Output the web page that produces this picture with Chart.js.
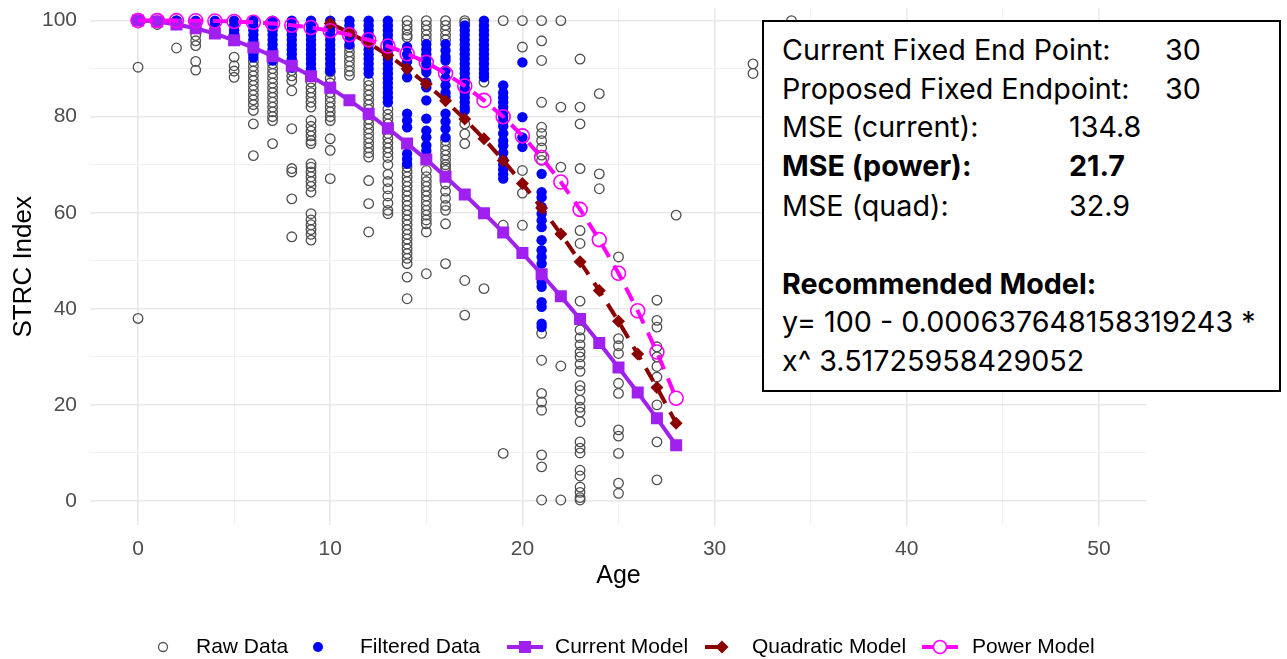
<!DOCTYPE html>
<html>
<head>
<meta charset="utf-8">
<script src="https://cdn.jsdelivr.net/npm/chart.js@4.4.1/dist/chart.umd.min.js"></script>
<style>
    body { margin: 0; background: #fff; }
    #wrap { position: relative; width: 1287px; height: 659px; }
    #note {
        position: absolute; left: 762px; top: 20px; width: 515px; height: 368px;
        border: 2px solid #000; background: #fff;
        font-family: Inter, "Open Sans", sans-serif; font-size: 28.7px; color: #000;
    }
    #note div { position: absolute; line-height: 1; white-space: pre; }
    #note .b { font-weight: bold; }
</style>
</head>
<body>
<div id="wrap">
    <canvas id="myChart" width="1287" height="659"></canvas>
    <div id="note">
        <div style="left:18px;top:14px">Current Fixed End Point:</div>
        <div style="left:401px;top:14px">30</div>
        <div style="left:18px;top:53px">Proposed Fixed Endpoint:</div>
        <div style="left:401px;top:53px">30</div>
        <div style="left:18px;top:91px">MSE (current):</div>
        <div style="left:305px;top:91px">134.8</div>
        <div class="b" style="left:18px;top:130px">MSE (power):</div>
        <div class="b" style="left:305px;top:130px">21.7</div>
        <div style="left:18px;top:170px">MSE (quad):</div>
        <div style="left:305px;top:170px">32.9</div>
        <div class="b" style="left:18px;top:248px">Recommended Model:</div>
        <div style="left:18px;top:286px">y= 100 - 0.000637648158319243 *</div>
        <div style="left:18px;top:325px">x^ 3.51725958429052</div>
    </div>
</div>
<script>
// raw observations, grouped by age (only the ones visible under the blue points)
const rawAges = [0, 1, 2, 3, 4, 5, 6, 7, 8, 9, 10, 11, 12, 13, 14, 15, 16, 17, 18, 19, 20, 21, 22, 23, 24, 25, 27, 28, 32, 34];
const rawValues = [
    [100, 90.3, 38],
    [100, 99.2],
    [100, 94.3],
    [99, 96.9, 95.8, 94.8, 91.5, 89.7],
    [99, 98],
    [92.4, 90.6, 89.5, 88.2],
    [91.5, 90.5, 89.5, 88.5, 87.5, 86.5, 85.5, 84.5, 83.5, 82.5, 81.3, 78.5, 71.9],
    [91, 90, 89, 88, 87, 86, 85, 84, 83, 82, 81, 80, 79.2, 74.4],
    [89.6, 88.5, 87.5, 85.4, 77.5, 69.2, 68.5, 62.9, 55],
    [87.2, 86, 85, 84, 83, 82, 79.2, 78, 77, 76, 75, 74.4, 70.2, 69.5, 68.5, 67.5, 66.5, 65.5, 64.3, 59.8, 58.5, 57.5, 56.5, 55.5, 54.3],
    [89.3, 88, 87, 86, 85, 84, 83, 82, 81, 80, 79.2, 75.4, 73, 67.1],
    [94.5, 93.5, 92.5, 91.5, 90.5, 89.5, 88.6],
    [87.5, 86.5, 85.5, 84.5, 83.5, 82.5, 81.5, 80.5, 79.5, 78.5, 77.5, 76.5, 75.5, 74.5, 73.5, 72.5, 71.6, 66.7, 61.9, 56],
    [81.6, 80.5, 79.5, 78.5, 77.5, 76.5, 75.5, 74.5, 73.5, 72.5, 71.5, 70, 68, 66.5, 65, 63.5, 62, 60.5, 59.8],
    [100, 99, 98, 97, 96.5, 69.5, 68.5, 67.5, 66.5, 65.5, 64.5, 63.5, 62.5, 61.5, 60.5, 59.5, 58.5, 57.5, 56.5, 55.5, 54.5, 53.5, 52.5, 51.5, 50.5, 49.4, 46.6, 42.1],
    [100, 99, 98, 97, 96, 68.8, 67.5, 66.5, 65.5, 64.5, 63.5, 62.5, 61.5, 60.5, 59.5, 58.5, 57.7, 56, 47.3],
    [100, 99, 98, 97, 96, 75, 74, 73, 72, 71, 70, 69.5, 68.8, 67.5, 66, 64.5, 63, 61.5, 60.5, 57.7, 49.4],
    [100, 99.5, 78.5, 76.4, 74.4, 45.9, 38.7],
    [87.2, 44.2],
    [100, 57.4, 9.9],
    [100, 94.5, 68.8, 64.1, 57.4],
    [100, 95.8, 91.7, 83, 77.8, 76.5, 75, 73.5, 72, 70.9, 34.9, 29.3, 22.4, 20.6, 18.9, 9.6, 7.1, 0.2],
    [100, 82, 69.5, 28.1, 0.2],
    [92, 82, 78.5, 69.2, 56.3, 53.6, 41.6, 35.6, 34, 32.5, 31, 30, 28.5, 27, 24, 23, 21, 19.5, 18.5, 16.5, 12.3, 11, 10, 6.4, 5.2, 2.9, 1.8, 0.7, 0.2],
    [84.8, 68.1, 65],
    [50.8, 33.8, 32.3, 30.7, 24.5, 22.4, 14.8, 13.5, 9.9, 3.7, 1.6],
    [41.8, 37.6, 36.2, 32.1, 30, 28, 25.8, 20, 12.3, 4.4],
    [59.5],
    [91, 89],
    [100]
];

// filtered observations (blue)
const filteredAges = [2, 3, 4, 5, 6, 7, 8, 9, 10, 11, 12, 13, 14, 15, 16, 17, 18, 19, 20, 21];
const filteredValues = [
    [100],
    [100, 99.5],
    [100, 99.5],
    [100, 99, 98, 97.3],
    [100, 99, 98, 97, 96, 95, 94, 93, 92.3],
    [100, 99, 98, 97, 96, 95, 94, 93, 92, 91.7],
    [100, 99, 98, 97, 96, 95, 94, 93, 92, 91, 90.2],
    [100, 99, 98, 97, 96, 95, 94, 93, 92, 91, 90, 89],
    [100, 99, 98, 97, 96, 95, 94, 93, 92, 91, 90, 89.5],
    [100, 99, 98, 97, 96, 95],
    [100, 99, 98, 97, 96, 95, 94, 93, 92, 91, 90, 89],
    [100, 99, 98, 97, 96, 95, 94, 93, 92, 91, 90, 89, 88, 87, 86, 85, 84, 83],
    [94.5, 93, 91.5, 90, 88.2, 80.6, 79.2, 77.8, 72.3, 71.2, 70.2],
    [95.1, 94, 93, 92, 91, 90, 89.3, 87.2, 86.1, 83.4, 79.6, 77.1, 75.7, 74, 72.9],
    [95.1, 93.8, 92.5, 91.7, 89.6, 88, 86.5, 85, 84.1, 80.6, 79, 77.5, 75.7],
    [99, 98, 97, 96, 95, 94, 93, 92, 91, 90, 89, 88, 87, 86, 85, 84, 83, 82, 81.3],
    [100, 99, 98, 97, 96, 95, 94, 93, 92, 91, 90, 89, 88.2],
    [86.5, 85, 84, 83, 82, 81, 80, 79, 78, 76.5, 75, 74, 72.5, 71, 70, 69, 68, 67.1],
    [91.3, 79.9, 75.7, 73.7],
    [68.1, 64.3, 63.2, 61.2, 59.8, 58.4, 57, 54.3, 52.2, 50.8, 49.4, 45.6, 44.6, 41.4, 40.4, 36.9, 36.2]
];

// model curves
const modelAges = [0, 1, 2, 3, 4, 5, 6, 7, 8, 9, 10, 11, 12, 13, 14, 15, 16, 17, 18, 19, 20, 21, 22, 23, 24, 25, 26, 27, 28];
const currentModel = [100, 99.8, 99.2, 98.4, 97.3, 95.9, 94.4, 92.6, 90.6, 88.4, 86.0, 83.4, 80.6, 77.6, 74.4, 71.1, 67.5, 63.8, 59.9, 55.9, 51.6, 47.2, 42.6, 37.9, 32.9, 27.8, 22.6, 17.2, 11.6];
const powerModel = [100, 100, 99.99, 99.97, 99.92, 99.82, 99.65, 99.4, 99.04, 98.55, 97.9, 97.07, 96.0, 94.7, 93.1, 91.3, 89.0, 86.4, 83.4, 80.0, 76.0, 71.5, 66.4, 60.7, 54.4, 47.4, 39.6, 31.0, 21.4];
const quadAges = [10, 11, 12, 13, 14, 15, 16, 17, 18, 19, 20, 21, 22, 23, 24, 25, 26, 27, 28];
const quadModel = [99.4, 97.5, 95.3, 92.8, 90.0, 86.8, 83.3, 79.5, 75.4, 70.9, 66.1, 61.0, 55.6, 49.8, 43.8, 37.4, 30.6, 23.6, 16.2];

const xTicks = [0, 5, 10, 15, 20, 25, 30, 35, 40, 45, 50];
const yTicks = [0, 10, 20, 30, 40, 50, 60, 70, 80, 90, 100];

function toPoints(ages, groups) {
    const pts = [];
    ages.forEach((age, i) => {
        groups[i].forEach((v) => pts.push({x: age, y: v}));
    });
    return pts;
}

function toLine(ages, values) {
    return ages.map((age, i) => ({x: age, y: values[i]}));
}

const legendItems = [
    {label: 'Raw Data', kind: 'raw', keyX: 163, textX: 196},
    {label: 'Filtered Data', kind: 'filtered', keyX: 318, textX: 360},
    {label: 'Current Model', kind: 'current', keyX: 525, textX: 555},
    {label: 'Quadratic Model', kind: 'quad', keyX: 722, textX: 752},
    {label: 'Power Model', kind: 'power', keyX: 940, textX: 972}
];

const legendPlugin = {
    id: 'bottomLegend',
    afterDraw(chart) {
        const ctx = chart.ctx;
        const y = 647;
        ctx.save();
        legendItems.forEach((item) => {
            const cx = item.keyX;
            ctx.setLineDash([]);
            if (item.kind === 'raw') {
                ctx.beginPath();
                ctx.arc(cx, y, 4.5, 0, Math.PI * 2);
                ctx.strokeStyle = '#555';
                ctx.lineWidth = 1.3;
                ctx.stroke();
            } else if (item.kind === 'filtered') {
                ctx.beginPath();
                ctx.arc(cx, y, 5, 0, Math.PI * 2);
                ctx.fillStyle = '#0000ff';
                ctx.fill();
            } else if (item.kind === 'current') {
                ctx.strokeStyle = '#a020f0';
                ctx.lineWidth = 4;
                ctx.beginPath();
                ctx.moveTo(cx - 18, y);
                ctx.lineTo(cx + 18, y);
                ctx.stroke();
                ctx.fillStyle = '#a020f0';
                ctx.fillRect(cx - 6, y - 6, 12, 12);
            } else if (item.kind === 'quad') {
                ctx.strokeStyle = '#8b0000';
                ctx.lineWidth = 4;
                ctx.beginPath();
                ctx.moveTo(cx - 17, y);
                ctx.lineTo(cx - 2, y);
                ctx.stroke();
                ctx.fillStyle = '#8b0000';
                ctx.beginPath();
                ctx.moveTo(cx, y - 6.5);
                ctx.lineTo(cx + 6.5, y);
                ctx.lineTo(cx, y + 6.5);
                ctx.lineTo(cx - 6.5, y);
                ctx.closePath();
                ctx.fill();
            } else if (item.kind === 'power') {
                ctx.strokeStyle = '#ff00ff';
                ctx.lineWidth = 4;
                ctx.beginPath();
                ctx.moveTo(cx - 18, y);
                ctx.lineTo(cx - 7, y);
                ctx.moveTo(cx + 7, y);
                ctx.lineTo(cx + 18, y);
                ctx.stroke();
                ctx.lineWidth = 1.6;
                ctx.beginPath();
                ctx.arc(cx, y, 6.5, 0, Math.PI * 2);
                ctx.stroke();
            }
            ctx.fillStyle = '#000';
            ctx.font = '21px "Liberation Sans", Arial, sans-serif';
            ctx.textBaseline = 'middle';
            ctx.textAlign = 'left';
            ctx.fillText(item.label, item.textX, y);
        });
        ctx.restore();
    }
};

const gridColor = (c) => (c.tick && c.tick.value % (c.scale.axis === 'x' ? 10 : 20) === 0 ? '#e8e8e8' : '#f1f1f1');
const gridWidth = (c) => (c.tick && c.tick.value % (c.scale.axis === 'x' ? 10 : 20) === 0 ? 1.6 : 1);

// the end ticks are not at the scale edges, so no extra room is needed for them
function dropEdgePadding(scale) {
    scale.paddingTop = 0;
    scale.paddingBottom = 0;
    scale.paddingLeft = 0;
    scale.paddingRight = 0;
}

const ctx = document.getElementById('myChart').getContext('2d');
const myChart = new Chart(ctx, {
    type: 'scatter',
    data: {
        datasets: [
            {
                label: 'Raw Data',
                data: toPoints(rawAges, rawValues),
                pointStyle: 'circle',
                pointRadius: 4.8,
                backgroundColor: 'rgba(0,0,0,0)',
                borderColor: '#505050',
                borderWidth: 1.3,
                order: 5
            },
            {
                label: 'Filtered Data',
                data: toPoints(filteredAges, filteredValues),
                pointStyle: 'circle',
                pointRadius: 5.2,
                backgroundColor: '#0000ff',
                borderColor: '#0000ff',
                borderWidth: 0,
                order: 4
            },
            {
                label: 'Current Model',
                data: toLine(modelAges, currentModel),
                showLine: true,
                borderColor: '#a020f0',
                backgroundColor: '#a020f0',
                borderWidth: 4,
                pointStyle: 'rect',
                pointRadius: 8.5,
                pointBorderWidth: 0,
                order: 3
            },
            {
                label: 'Quadratic Model',
                data: toLine(quadAges, quadModel),
                showLine: true,
                borderColor: '#8b0000',
                backgroundColor: '#8b0000',
                borderWidth: 4,
                borderDash: [15, 10],
                pointStyle: 'rectRot',
                pointRadius: 6.5,
                pointBorderWidth: 0,
                order: 2
            },
            {
                label: 'Power Model',
                data: toLine(modelAges, powerModel),
                showLine: true,
                borderColor: '#ff00ff',
                backgroundColor: 'rgba(0,0,0,0)',
                borderWidth: 4,
                borderDash: [15, 10],
                pointStyle: 'circle',
                pointRadius: 7,
                pointBorderWidth: 1.6,
                pointBorderColor: '#ff00ff',
                order: 1
            }
        ]
    },
    options: {
        responsive: false,
        animation: false,
        devicePixelRatio: 1,
        layout: {padding: {left: 0, right: 140, top: 0, bottom: 68}},
        plugins: {
            legend: {display: false},
            tooltip: {enabled: false}
        },
        scales: {
            x: {
                type: 'linear',
                min: -2.5,
                max: 52.5,
                afterBuildTicks: (scale) => {
                    scale.ticks = xTicks.map((v) => ({value: v}));
                },
                afterFit: (scale) => {
                    scale.height = 66;
                    dropEdgePadding(scale);
                },
                border: {display: false},
                grid: {color: gridColor, lineWidth: gridWidth, drawTicks: false},
                ticks: {
                    padding: 12,
                    color: '#4d4d4d',
                    font: {family: '"Liberation Sans", Arial, sans-serif', size: 21},
                    callback: (v) => (v % 10 === 0 ? v : '')
                },
                title: {
                    display: true,
                    text: 'Age',
                    color: '#000',
                    padding: 0,
                    font: {family: '"Liberation Sans", Arial, sans-serif', size: 25}
                }
            },
            y: {
                type: 'linear',
                min: -5,
                max: 102.5,
                afterBuildTicks: (scale) => {
                    scale.ticks = yTicks.map((v) => ({value: v}));
                },
                afterFit: (scale) => {
                    scale.width = 90;
                    dropEdgePadding(scale);
                },
                border: {display: false},
                grid: {color: gridColor, lineWidth: gridWidth, drawTicks: false},
                ticks: {
                    padding: 13,
                    color: '#4d4d4d',
                    font: {family: '"Liberation Sans", Arial, sans-serif', size: 21},
                    callback: (v) => (v % 20 === 0 ? v : '')
                },
                title: {
                    display: true,
                    text: 'STRC Index',
                    color: '#000',
                    padding: {top: 8, bottom: 0},
                    font: {family: '"Liberation Sans", Arial, sans-serif', size: 26}
                }
            }
        }
    },
    plugins: [legendPlugin]
});
</script>
</body>
</html>
